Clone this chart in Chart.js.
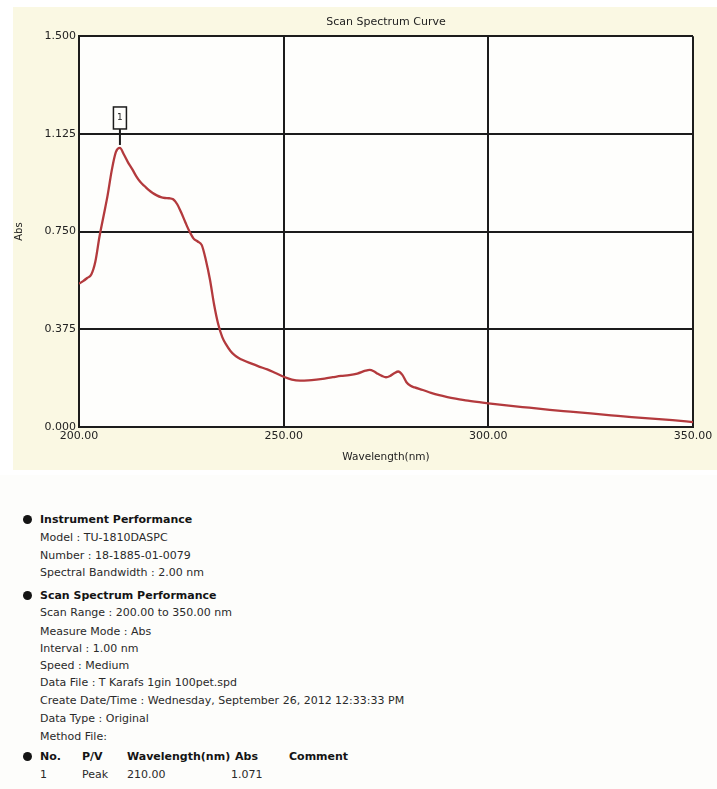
<!DOCTYPE html>
<html>
<head>
<meta charset="utf-8">
<script src="https://cdn.jsdelivr.net/npm/chart.js@4/dist/chart.umd.min.js"></script>
<style>
  html, body { margin: 0; padding: 0; background: #fdfdfb; }
  body { width: 717px; height: 789px; position: relative; overflow: hidden;
         font-family: "DejaVu Sans", Verdana, sans-serif; color: #2a2a2a; }
  #wrap { position: absolute; left: 0; top: 0; width: 717px; height: 475px; }
  .ln { position: absolute; left: 40px; height: 18px; line-height: 18px; font-size: 11px; white-space: nowrap; }
  .hd { font-weight: bold; color: #141414; }
  .bul { position: absolute; left: 23px; width: 9px; height: 9px; border-radius: 50%; background: #141414; }
  .col { position: absolute; top: 0; }
</style>
</head>
<body>
<div id="wrap"><canvas id="c" width="717" height="475"></canvas></div>
<div id="info"></div>
<script>
// ---- data ----
const wavelengths = [200,201,202,203,204,205,206,207,208,209,210,211,212,213,214,215,216,217,218,219,220,221,222,223,224,225,226,227,228,229,230,231,232,233,234,235,236,237,238,239,240,242,244,246,248,250,252,254,256,258,260,262,264,266,268,270,271,272,273,274,275,276,277,278,279,280,281,282,284,286,288,290,292,295,300,305,310,315,320,325,330,335,340,345,350];
const absorbance = [0.550,0.560,0.572,0.585,0.635,0.730,0.810,0.890,0.985,1.055,1.071,1.045,1.015,0.990,0.962,0.940,0.925,0.910,0.898,0.889,0.882,0.879,0.878,0.874,0.855,0.822,0.785,0.750,0.723,0.712,0.698,0.640,0.565,0.470,0.395,0.345,0.315,0.292,0.276,0.265,0.257,0.244,0.232,0.221,0.207,0.193,0.182,0.178,0.179,0.182,0.186,0.191,0.196,0.199,0.205,0.216,0.219,0.214,0.204,0.196,0.191,0.196,0.206,0.213,0.200,0.172,0.158,0.152,0.142,0.131,0.122,0.115,0.109,0.101,0.091,0.082,0.074,0.066,0.059,0.052,0.045,0.038,0.032,0.026,0.019];
const xTicks = [200, 250, 300, 350];
const yTicks = [0, 0.375, 0.75, 1.125, 1.5];
const peakNo = ["1"];
const peakType = ["Peak"];
const peakWavelength = [210.00];
const peakAbs = [1.071];

const points = wavelengths.map((w, i) => ({ x: w, y: absorbance[i] }));
const FONT = "'DejaVu Sans', Verdana, sans-serif";
const GRID = '#1c1c1c';

const bgPlugin = {
  id: 'bg',
  afterLayout(chart) {
    if (chart.titleBlock) {
      chart.titleBlock.left = chart.chartArea.left;
      chart.titleBlock.right = chart.chartArea.right;
    }
  },
  beforeDraw(chart) {
    const { ctx, chartArea: a } = chart;
    ctx.save();
    ctx.fillStyle = '#ffffff';
    ctx.fillRect(0, 0, chart.width, chart.height);
    ctx.fillStyle = '#faf8e3';
    ctx.fillRect(13, 7, chart.width - 13, 463);
    ctx.fillStyle = '#fefefc';
    ctx.fillRect(a.left, a.top, a.right - a.left, a.bottom - a.top);
    ctx.restore();
  }
};

const peakPlugin = {
  id: 'peakMark',
  afterDatasetsDraw(chart) {
    const { ctx, scales: { x, y } } = chart;
    ctx.save();
    peakWavelength.forEach((w, i) => {
      const px = x.getPixelForValue(w);
      const py = y.getPixelForValue(peakAbs[i]);
      ctx.strokeStyle = GRID;
      ctx.lineWidth = 2;
      ctx.beginPath();
      ctx.moveTo(px, py - 3);
      ctx.lineTo(px, py - 19);
      ctx.stroke();
      ctx.lineWidth = 1.5;
      ctx.fillStyle = '#fefefc';
      ctx.fillRect(px - 6.5, py - 41, 13, 22);
      ctx.strokeRect(px - 6.5, py - 41, 13, 22);
      ctx.fillStyle = '#222';
      ctx.font = '9px ' + FONT;
      ctx.textAlign = 'center';
      ctx.textBaseline = 'middle';
      ctx.fillText(peakNo[i], px, py - 30);
    });
    ctx.restore();
  }
};

new Chart(document.getElementById('c'), {
  type: 'scatter',
  data: {
    datasets: [{
      data: points,
      showLine: true,
      borderColor: '#b33a3d',
      borderWidth: 2.3,
      pointRadius: 0,
      cubicInterpolationMode: 'monotone'
    }]
  },
  options: {
    responsive: false,
    animation: false,
    layout: { padding: { left: 13, right: 24, top: 10, bottom: 0 } },
    plugins: {
      legend: { display: false },
      tooltip: { enabled: false },
      title: {
        display: true,
        text: 'Scan Spectrum Curve',
        color: '#222',
        font: { family: FONT, size: 11, weight: 'normal' },
        padding: { top: 6, bottom: 7 }
      }
    },
    scales: {
      x: {
        type: 'linear',
        min: 200, max: 350,
        afterBuildTicks(s) { s.ticks = xTicks.map(v => ({ value: v })); },
        afterFit(s) { s.height = 48; },
        ticks: {
          color: '#222', padding: 3, maxRotation: 0,
          font: { family: FONT, size: 11 },
          callback: v => Number(v).toFixed(2)
        },
        grid: { color: GRID, lineWidth: 2, drawTicks: false },
        border: { color: GRID, width: 2 },
        title: {
          display: true, text: 'Wavelength(nm)', color: '#222',
          font: { family: FONT, size: 10.5 },
          padding: { top: 0, bottom: 11 }
        }
      },
      y: {
        type: 'linear',
        min: 0, max: 1.5,
        afterBuildTicks(s) { s.ticks = yTicks.map(v => ({ value: v })); },
        afterFit(s) { s.width = 66; },
        ticks: {
          color: '#222', padding: 3,
          font: { family: FONT, size: 11 },
          callback: v => Number(v).toFixed(3)
        },
        grid: { color: GRID, lineWidth: 2, drawTicks: false },
        border: { color: GRID, width: 2 },
        title: {
          display: true, text: 'Abs', color: '#222',
          font: { family: FONT, size: 10 },
          padding: { top: 0, bottom: 0 }
        }
      }
    }
  },
  plugins: [bgPlugin, peakPlugin]
});

// ---- report text below the chart ----
const info = document.getElementById('info');
function addLine(y, html, bold, bullet) {
  const d = document.createElement('div');
  d.className = 'ln' + (bold ? ' hd' : '');
  d.style.top = (y - 9) + 'px';
  d.innerHTML = html;
  info.appendChild(d);
  if (bullet) {
    const b = document.createElement('div');
    b.className = 'bul';
    b.style.top = (y - 5) + 'px';
    info.appendChild(b);
  }
  return d;
}
addLine(520, 'Instrument Performance', true, true);
addLine(538, 'Model : TU-1810DASPC');
addLine(556, 'Number : 18-1885-01-0079');
addLine(573, 'Spectral Bandwidth : 2.00 nm');
addLine(596, 'Scan Spectrum Performance', true, true);
addLine(613, 'Scan Range : 200.00 to 350.00 nm');
addLine(632, 'Measure Mode : Abs');
addLine(649, 'Interval : 1.00 nm');
addLine(666, 'Speed : Medium');
addLine(683, 'Data File : T Karafs 1gin 100pet.spd');
addLine(701, 'Create Date/Time : Wednesday, September 26, 2012 12:33:33 PM');
addLine(719, 'Data Type : Original');
addLine(737, 'Method File:');
const hdr = addLine(757, '', true, true);
hdr.style.width = '320px';
[['No.', 0], ['P/V', 42], ['Wavelength(nm)', 87], ['Abs', 195], ['Comment', 249]].forEach(([t, x]) => {
  const s = document.createElement('span'); s.className = 'col'; s.style.left = x + 'px'; s.textContent = t; hdr.appendChild(s);
});
peakNo.forEach((n, i) => {
  const row = addLine(775 + i * 18, '', false, false);
  row.style.width = '320px';
  [[n, 0], [peakType[i], 42], [peakWavelength[i].toFixed(2), 87], [peakAbs[i].toFixed(3), 191]].forEach(([t, x]) => {
    const s = document.createElement('span'); s.className = 'col'; s.style.left = x + 'px'; s.textContent = t; row.appendChild(s);
  });
});
</script>
</body>
</html>
